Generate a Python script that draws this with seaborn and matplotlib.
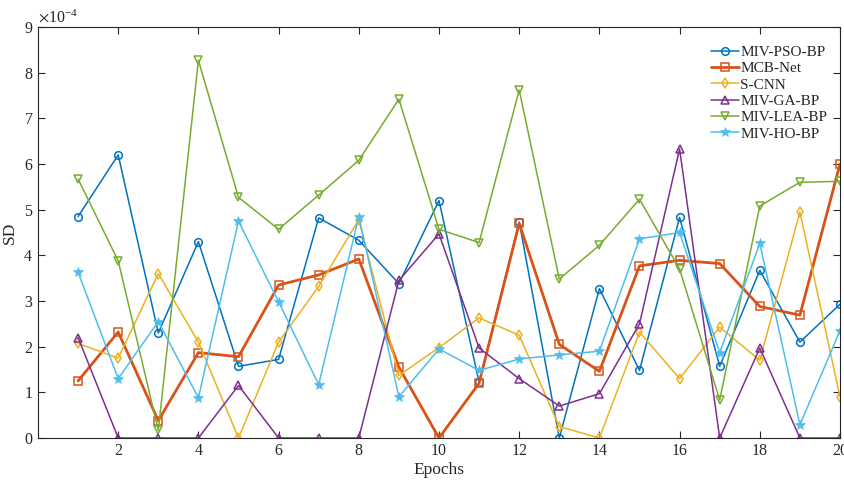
import numpy as np
import pandas as pd
import matplotlib
matplotlib.use("Agg")
import matplotlib.pyplot as plt
import seaborn as sns
from matplotlib.ticker import ScalarFormatter, MultipleLocator

epochs = list(range(1, 21))
scale = 1e-4
miv_pso_bp = [4.85, 6.2, 2.3, 4.3, 1.57, 1.72, 4.82, 4.33, 3.38, 5.2, 1.22, 4.73, 0.0, 3.27, 1.48, 4.83, 1.57, 3.67, 2.1, 2.93]
mcb_net = [1.25, 2.32, 0.38, 1.87, 1.78, 3.35, 3.57, 3.92, 1.55, 0.0, 1.2, 4.7, 2.05, 1.46, 3.77, 3.89, 3.82, 2.88, 2.69, 6.0]
s_cnn = [2.07, 1.75, 3.6, 2.1, 0.0, 2.1, 3.32, 4.78, 1.37, 1.98, 2.63, 2.25, 0.25, 0.0, 2.32, 1.3, 2.43, 1.7, 4.95, 0.9]
miv_ga_bp = [2.2, 0.0, 0.0, 0.0, 1.15, 0.0, 0.0, 0.0, 3.45, 4.47, 1.97, 1.3, 0.7, 0.97, 2.5, 6.33, 0.0, 1.97, 0.0, 0.0]
miv_lea_bp = [5.67, 3.88, 0.17, 8.27, 5.27, 4.57, 5.32, 6.08, 7.42, 4.57, 4.28, 7.62, 3.48, 4.22, 5.23, 3.7, 0.83, 5.08, 5.6, 5.62]
miv_ho_bp = [3.63, 1.3, 2.55, 0.88, 4.75, 2.98, 1.17, 4.85, 0.9, 1.95, 1.48, 1.73, 1.82, 1.9, 4.36, 4.5, 1.87, 4.26, 0.29, 2.35]
x_ticks = [2, 4, 6, 8, 10, 12, 14, 16, 18, 20]

names = ["MIV-PSO-BP", "MCB-Net", "S-CNN", "MIV-GA-BP", "MIV-LEA-BP", "MIV-HO-BP"]
series = [miv_pso_bp, mcb_net, s_cnn, miv_ga_bp, miv_lea_bp, miv_ho_bp]
colors = ["#0072BD", "#D95319", "#EDB120", "#7E2F8E", "#77AC30", "#4DBEEE"]
markers = ["o", "s", "d", "^", "v", "*"]
widths = [1.1, 2.0, 1.1, 1.1, 1.1, 1.1]

sns.set_theme(style="ticks")
plt.rcParams['font.family'] = ['Liberation Serif', 'DejaVu Serif']
plt.rcParams['mathtext.fontset'] = 'stix'

fig = plt.figure(figsize=(8.45, 4.86), dpi=100)
ax = fig.add_axes([38/845, 1-438/486, (840-38)/845, (438-27)/486])

for name, vals, c, m, w in zip(names, series, colors, markers, widths):
    df = pd.DataFrame({"Epochs": epochs, "SD": np.array(vals) * scale})
    filled = m == "*"
    sns.lineplot(data=df, x="Epochs", y="SD", ax=ax, color=c, linewidth=w,
                 marker=m, markersize=7.5 if filled else 5.5,
                 markerfacecolor=c if filled else "none",
                 markeredgecolor=c, markeredgewidth=1.1 if not filled else 0.5,
                 label=name)

ax.set_xlim(0, 20)
ax.set_ylim(0, 9e-4)
ax.set_xticks(x_ticks)
ax.yaxis.set_major_locator(MultipleLocator(1e-4))
fmt = ScalarFormatter(useMathText=True)
fmt.set_powerlimits((-3, 3))
ax.yaxis.set_major_formatter(fmt)
ax.tick_params(direction="in", top=True, right=True, labelsize=11.5, length=5, width=0.8, colors="#262626")
ax.yaxis.get_offset_text().set_fontsize(11.5)
for s in ax.spines.values():
    s.set_linewidth(0.8)
    s.set_color("#262626")
ax.set_xlabel("Epochs", fontsize=12.5, labelpad=2)
ax.set_ylabel("SD", fontsize=12.5, labelpad=4)
leg = ax.legend(loc="upper right", frameon=False, fontsize=11, handlelength=1.8,
                borderaxespad=0.0, labelspacing=0.17, handletextpad=0.1,
                bbox_to_anchor=(0.992, 0.97))
fig.savefig("out.png", dpi=100)
